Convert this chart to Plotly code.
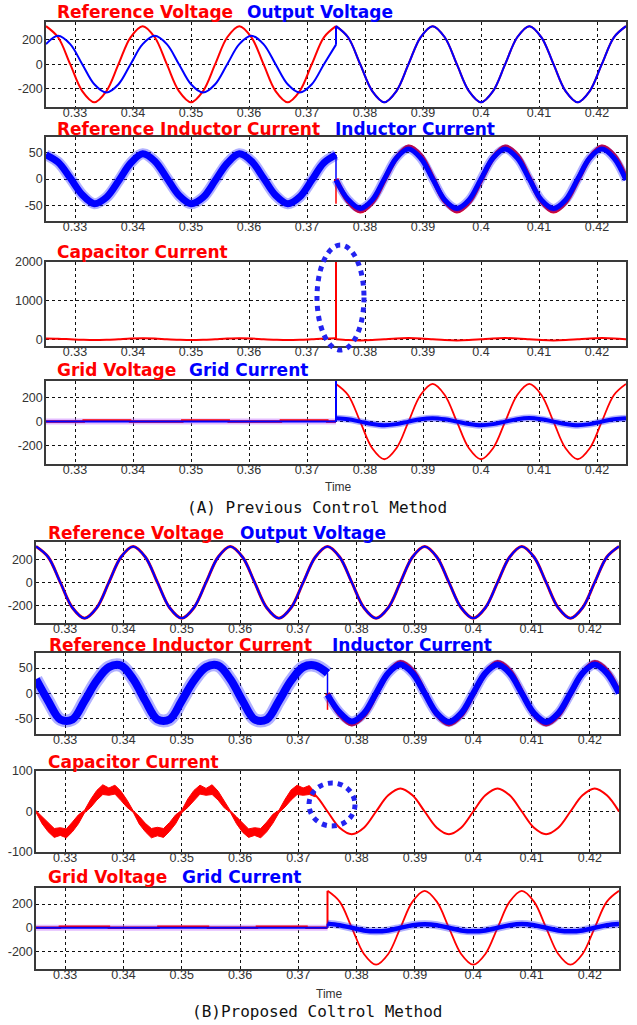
import plotly.graph_objects as go

W, H = 637, 1025

# ---------------- time grids (s) ----------------
T_PRE = [0.32500, 0.32708, 0.32917, 0.33125, 0.33333, 0.33542, 0.33750, 0.33958,
         0.34167, 0.34375, 0.34583, 0.34792, 0.35000, 0.35208, 0.35417, 0.35625,
         0.35833, 0.36042, 0.36250, 0.36458, 0.36667, 0.36875, 0.37083, 0.37292, 0.37500]
T_POST = [0.37500, 0.37708, 0.37917, 0.38125, 0.38333, 0.38542, 0.38750, 0.38958,
          0.39167, 0.39375, 0.39583, 0.39792, 0.40000, 0.40208, 0.40417, 0.40625,
          0.40833, 0.41042, 0.41250, 0.41458, 0.41667, 0.41875, 0.42083, 0.42292, 0.42500]
T_FINE = [0.32500, 0.32604, 0.32708, 0.32813, 0.32917, 0.33021, 0.33125, 0.33229,
          0.33333, 0.33438, 0.33542, 0.33646, 0.33750, 0.33854, 0.33958, 0.34063,
          0.34167, 0.34271, 0.34375, 0.34479, 0.34583, 0.34688, 0.34792, 0.34896,
          0.35000, 0.35104, 0.35208, 0.35313, 0.35417, 0.35521, 0.35625, 0.35729,
          0.35833, 0.35938, 0.36042, 0.36146, 0.36250, 0.36354, 0.36458, 0.36563,
          0.36667, 0.36771, 0.36875, 0.36979, 0.37083, 0.37188, 0.37292]
T_B3_POST = [0.37083, 0.37292, 0.37500, 0.37708, 0.37917, 0.38125, 0.38333, 0.38542,
             0.38750, 0.38958, 0.39167, 0.39375, 0.39583, 0.39792, 0.40000, 0.40208,
             0.40417, 0.40625, 0.40833, 0.41042, 0.41250, 0.41458, 0.41667, 0.41875,
             0.42083, 0.42292, 0.42500]
T_SWITCH = 0.375

X_TICKS = [0.33, 0.34, 0.35, 0.36, 0.37, 0.38, 0.39, 0.40, 0.41, 0.42]
X_TICKTEXT = ["0.33", "0.34", "0.35", "0.36", "0.37", "0.38", "0.39", "0.4", "0.41", "0.42"]

# ---------------- (A) previous method ----------------
A1_VREF_PRE = [311, 220, 0, -220, -311, -220, 0, 220, 311, 220, 0, -220, -311,
               -220, 0, 220, 311, 220, 0, -220, -311, -220, 0, 220, 311]
A1_VREF_POST = [311, 220, 0, -220, -311, -220, 0, 220, 311, 220, 0, -220, -311,
                -220, 0, 220, 311, 220, 0, -220, -311, -220, 0, 220, 311]
A1_VOUT_PRE = [164, 232, 164, 0, -164, -232, -164, 0, 164, 232, 164, 0, -164,
               -232, -164, 0, 164, 232, 164, 0, -164, -232, -164, 0, 160]
A1_VOUT_POST = [311, 220, 0, -220, -311, -220, 0, 220, 311, 220, 0, -220, -311,
                -220, 0, 220, 311, 220, 0, -220, -311, -220, 0, 220, 311]

A2_IREF_PRE = [46, 32, 2, -30, -47, -35, -4, 30, 48, 34, 2, -31, -47,
               -35, -3, 30, 48, 34, 2, -31, -47, -34, -2, 31, 46]
A2_IL_PRE = [46, 32, 2, -30, -47, -35, -4, 30, 48, 34, 2, -31, -47,
             -35, -3, 30, 48, 34, 2, -31, -47, -34, -2, 31, 46]
A2_IREF_SPIKE = [0, -47]
A2_IREF_POST = [0, -42, -61, -44, -2, 40, 61, 45, 2, -42, -61, -44, -2,
                40, 61, 45, 2, -42, -61, -44, -2, 40, 61, 45, 2]
A2_IL_POST = [-2, -39, -56, -40, 0, 40, 57, 40, 0, -40, -56, -40, 0,
              40, 57, 40, 0, -40, -56, -40, 0, 40, 57, 40, -2]

A3_IC_PRE = [20, 14, 0, -14, -22, -15, 0, 16, 24, 17, 0, -14, -22,
             -15, 0, 16, 24, 17, 0, -14, -22, -15, 0, 16, 24]
A3_IC_SPIKE = [24, 2000, 0]
A3_IC_POST = [0, -21, -30, -21, 0, 21, 30, 21, 0, -21, -30, -21, 0,
              21, 30, 21, 0, -21, -30, -21, 0, 21, 30, 21, 0]

A4_VG_PRE_T = [0.3250, 0.3315, 0.3315, 0.3395, 0.3395, 0.3485, 0.3485,
               0.3565, 0.3565, 0.3655, 0.3655, 0.3735, 0.3735, 0.3750]
A4_VG_PRE = [0, 0, 8, 8, 0, 0, 8, 8, 0, 0, 8, 8, 0, 0]
A4_VG_POST = [311, 220, 0, -220, -311, -220, 0, 220, 311, 220, 0, -220, -311,
              -220, 0, 220, 311, 220, 0, -220, -311, -220, 0, 220, 311]
A4_IG_PRE_T = [0.3250, 0.3750]
A4_IG_PRE = [0, 0]
A4_IG_SPIKE = [0, 420, 27]
A4_IG_POST = [27, 19, 0, -20, -30, -21, 0, 20, 28, 19, 0, -20, -30,
              -21, 0, 20, 29, 19, 0, -20, -30, -21, 0, 20, 28]

# ---------------- (B) proposed method ----------------
B1_VREF = [311, 220, 0, -220, -311, -220, 0, 220, 311, 220, 0, -220, -311,
           -220, 0, 220, 311, 220, 0, -220, -311, -220, 0, 220, 311,
           220, 0, -220, -311, -220, 0, 220, 311, 220, 0, -220, -311,
           -220, 0, 220, 311, 220, 0, -220, -311, -220, 0, 220, 311]
B1_VOUT = [311, 220, 0, -220, -311, -220, 0, 220, 311, 220, 0, -220, -311,
           -220, 0, 220, 311, 220, 0, -220, -311, -220, 0, 220, 311,
           220, 0, -220, -311, -220, 0, 220, 311, 220, 0, -220, -311,
           -220, 0, 220, 311, 220, 0, -220, -311, -220, 0, 220, 311]

B2_IREF_PRE = [28, -15, -52, -52, -15, 25, 52, 55, 28, -15, -52, -52, -15,
               25, 52, 55, 28, -15, -52, -52, -15, 25, 52, 55, 40]
B2_IL_PRE = [28, -15, -52, -52, -15, 25, 52, 55, 28, -15, -52, -52, -15,
             25, 52, 55, 28, -15, -52, -52, -15, 25, 52, 55, 40]
B2_IREF_SPIKE = [0, -33]
B2_IREF_POST = [0, -42, -61, -44, -2, 40, 61, 45, 2, -42, -61, -44, -2,
                40, 61, 45, 2, -42, -61, -44, -2, 40, 61, 45, 2]
B2_IL_POST = [-3, -38, -56, -40, 0, 40, 57, 40, 0, -40, -57, -40, 0,
              40, 57, 40, 0, -40, -57, -40, 0, 40, 57, 40, 0]

B3_IC_UPPER = [2, -12, -28, -42, -40, -43, -26, -8, 3, 30, 52, 66, 58, 65, 50, 28,
               2, -12, -29, -42, -39, -42, -27, -8, 3, 31, 52, 65, 57, 66, 50, 27,
               2, -13, -28, -43, -40, -42, -26, -7, 3, 30, 53, 65, 58, 64, 46]
B3_IC_LOWER = [-2, -30, -50, -64, -59, -65, -50, -30, -3, 10, 28, 42, 40, 43, 27, 10,
               -2, -31, -50, -65, -60, -64, -49, -30, -3, 10, 27, 43, 40, 42, 28, 9,
               -2, -30, -51, -64, -59, -65, -50, -29, -3, 11, 28, 42, 40, 42, 36]
B3_IC_POST = [57, 40, 0, -40, -56, -40, 0, 40, 57, 40, 0, -40, -56, -40,
              0, 40, 57, 40, 0, -40, -56, -40, 0, 40, 57, 40, 0]

B4_VG_PRE_T = [0.3250, 0.3291, 0.3291, 0.3375, 0.3375, 0.3460, 0.3460,
               0.3545, 0.3545, 0.3629, 0.3629, 0.3714, 0.3714, 0.3750]
B4_VG_PRE = [0, 0, 8, 8, 0, 0, 8, 8, 0, 0, 8, 8, 0, 0]
B4_VG_POST = [311, 220, 0, -220, -311, -220, 0, 220, 311, 220, 0, -220, -311,
              -220, 0, 220, 311, 220, 0, -220, -311, -220, 0, 220, 311]
B4_IG_PRE_T = [0.3250, 0.3750]
B4_IG_PRE = [0, 0]
B4_IG_POST = [35, 22, 0, -22, -30, -22, 0, 22, 30, 22, 0, -22, -30,
              -22, 0, 22, 32, 22, 0, -22, -30, -22, 0, 22, 32]

# ---------------- styling ----------------
RED = "#ff0000"
BLUE = "#0000ff"
SOFT_BLUE = "rgba(30,30,255,0.35)"
TICK_FONT = dict(family="Liberation Sans, Arial, sans-serif", size=12.5, color="#333333")

A_X = (46, 626)
B_X = (36, 619)
ROWS = [(22, 107), (137, 221), (262, 346), (381, 464),
        (542, 623), (653, 734), (771, 852), (888, 969)]
Y_RANGES = [(-350, 345), (-80, 80), (-175, 2000), (-350, 335),
            (-352, 350), (-81, 80), (-100, 100), (-347, 335)]
Y_TICKS = [[-200, 0, 200], [-50, 0, 50], [0, 1000, 2000], [-200, 0, 200],
           [-200, 0, 200], [-50, 0, 50], [-100, 0, 100], [-200, 0, 200]]

fig = go.Figure()


def line(i, xs, ys, color, width, shape="spline"):
    fig.add_trace(go.Scatter(
        x=xs, y=ys, mode="lines", xaxis="x%d" % i, yaxis="y%d" % i,
        line=dict(color=color, width=width, shape=shape, smoothing=1.0),
        hoverinfo="skip", showlegend=False))


def band(i, xs, upper, lower, color):
    fig.add_trace(go.Scatter(
        x=list(xs) + list(xs)[::-1], y=list(upper) + list(lower)[::-1],
        mode="lines", fill="toself", fillcolor=color,
        line=dict(color=color, width=1), xaxis="x%d" % i, yaxis="y%d" % i,
        hoverinfo="skip", showlegend=False))


S = [T_SWITCH, T_SWITCH]
S3 = [T_SWITCH, T_SWITCH, T_SWITCH]

# A1
line(1, T_PRE, A1_VREF_PRE, RED, 2)
line(1, T_POST, A1_VREF_POST, RED, 2)
line(1, T_PRE, A1_VOUT_PRE, BLUE, 2)
line(1, S, [A1_VOUT_PRE[-1], A1_VOUT_POST[0]], BLUE, 2, "linear")
line(1, T_POST, A1_VOUT_POST, BLUE, 2)

# A2
line(2, T_PRE, A2_IREF_PRE, RED, 2)
line(2, T_PRE, A2_IL_PRE, SOFT_BLUE, 11)
line(2, T_PRE, A2_IL_PRE, BLUE, 7)
line(2, T_POST, A2_IREF_POST, RED, 5)
line(2, S, A2_IREF_SPIKE, RED, 1.5, "linear")
line(2, S, [A2_IL_PRE[-1], A2_IL_POST[0]], BLUE, 1.5, "linear")
line(2, T_POST, A2_IL_POST, SOFT_BLUE, 9)
line(2, T_POST, A2_IL_POST, BLUE, 5)

# A3
line(3, T_PRE, A3_IC_PRE, RED, 2)
line(3, S3, A3_IC_SPIKE, RED, 2, "linear")
line(3, T_POST, A3_IC_POST, RED, 2)

# A4
line(4, A4_VG_PRE_T, A4_VG_PRE, "rgba(200,120,255,0.5)", 6, "linear")
line(4, A4_VG_PRE_T, A4_VG_PRE, RED, 2.5, "linear")
line(4, A4_IG_PRE_T, A4_IG_PRE, BLUE, 2, "linear")
line(4, T_POST, A4_VG_POST, RED, 1.8)
line(4, S3, A4_IG_SPIKE, BLUE, 2, "linear")
line(4, T_POST, A4_IG_POST, SOFT_BLUE, 7)
line(4, T_POST, A4_IG_POST, BLUE, 4)

# B1
line(5, T_PRE + T_POST[1:], B1_VREF, RED, 3)
line(5, T_PRE + T_POST[1:], B1_VOUT, BLUE, 2.2)

# B2
line(6, T_PRE, B2_IREF_PRE, RED, 2)
line(6, T_PRE, B2_IL_PRE, SOFT_BLUE, 13)
line(6, T_PRE, B2_IL_PRE, BLUE, 8)
line(6, T_POST, B2_IREF_POST, RED, 5)
line(6, S, B2_IREF_SPIKE, RED, 1.5, "linear")
line(6, S, [B2_IL_PRE[-1], B2_IL_POST[0]], BLUE, 1.5, "linear")
line(6, T_POST, B2_IL_POST, SOFT_BLUE, 10)
line(6, T_POST, B2_IL_POST, BLUE, 6)

# B3
band(7, T_FINE, B3_IC_UPPER, B3_IC_LOWER, RED)
line(7, T_B3_POST, B3_IC_POST, RED, 2)

# B4
line(8, B4_VG_PRE_T, B4_VG_PRE, "rgba(200,120,255,0.5)", 6, "linear")
line(8, B4_VG_PRE_T, B4_VG_PRE, RED, 2.5, "linear")
line(8, B4_IG_PRE_T, B4_IG_PRE, BLUE, 2, "linear")
line(8, S, [B4_VG_PRE[-1], B4_VG_POST[0]], RED, 2, "linear")
line(8, T_POST, B4_VG_POST, RED, 1.8)
line(8, S, [B4_IG_PRE[-1], B4_IG_POST[0]], BLUE, 2, "linear")
line(8, T_POST, B4_IG_POST, SOFT_BLUE, 8)
line(8, T_POST, B4_IG_POST, BLUE, 4.5)

# ---------------- axes ----------------
layout = dict(width=W, height=H, margin=dict(l=0, r=0, t=0, b=0, autoexpand=False),
              autosize=False, paper_bgcolor="white", plot_bgcolor="white",
              showlegend=False)
for i in range(1, 9):
    xd = A_X if i <= 4 else B_X
    top, bot = ROWS[i - 1]
    common = dict(showgrid=True, griddash="dot", gridcolor="#111111", gridwidth=1,
                  showline=True, mirror=True, linecolor="#3a3a3a", linewidth=1.5,
                  zeroline=False, ticks="", tickfont=TICK_FONT, fixedrange=True,
                  automargin=False)
    layout["xaxis%d" % i] = dict(common, domain=[xd[0] / W, xd[1] / W],
                                 range=[0.325, 0.425], tickvals=X_TICKS,
                                 ticktext=X_TICKTEXT, anchor="y%d" % i,
                                 ticklabelstandoff=-7)
    yt = Y_TICKS[i - 1]
    layout["yaxis%d" % i] = dict(common, domain=[1 - bot / H, 1 - top / H],
                                 range=list(Y_RANGES[i - 1]), tickvals=yt,
                                 ticktext=[str(v) for v in yt], anchor="x%d" % i,
                                 ticklabelstandoff=-1)
fig.update_layout(**layout)

# ---------------- titles / captions ----------------
TITLES = [
    (12, [("Reference Voltage", 55, RED), ("Output Voltage", 245, BLUE)]),
    (129, [("Reference Inductor Current", 55, RED), ("Inductor Current", 333, BLUE)]),
    (252, [("Capacitor Current", 55, RED)]),
    (370, [("Grid Voltage", 55, RED), ("Grid Current", 187, BLUE)]),
    (533, [("Reference Voltage", 46, RED), ("Output Voltage", 238, BLUE)]),
    (645, [("Reference Inductor Current", 47, RED), ("Inductor Current", 330, BLUE)]),
    (762, [("Capacitor Current", 46, RED)]),
    (877, [("Grid Voltage", 46, RED), ("Grid Current", 180, BLUE)]),
]
ann = []
for yc, parts in TITLES:
    for txt, x0, col in parts:
        ann.append(dict(text="<b>%s</b>" % txt, x=x0 / W, y=1 - yc / H,
                        xref="paper", yref="paper", xanchor="left", yanchor="middle",
                        showarrow=False,
                        font=dict(family="DejaVu Sans, sans-serif", size=17, color=col)))
ann.append(dict(text="Time", x=338 / W, y=1 - 487 / H, xref="paper", yref="paper",
                showarrow=False, xanchor="center", yanchor="middle",
                font=dict(family="Liberation Sans, Arial", size=12, color="#333333")))
ann.append(dict(text="Time", x=330 / W, y=1 - 994 / H, xref="paper", yref="paper",
                showarrow=False, xanchor="center", yanchor="middle",
                font=dict(family="Liberation Sans, Arial", size=12, color="#333333")))
ann.append(dict(text="(A) Previous Control Method", x=317 / W, y=1 - 507 / H,
                xref="paper", yref="paper", showarrow=False, xanchor="center",
                yanchor="middle",
                font=dict(family="DejaVu Sans Mono, monospace", size=16, color="#111111")))
ann.append(dict(text="(B)Proposed Coltrol Method", x=317 / W, y=1 - 1011 / H,
                xref="paper", yref="paper", showarrow=False, xanchor="center",
                yanchor="middle",
                font=dict(family="DejaVu Sans Mono, monospace", size=16, color="#111111")))
fig.update_layout(annotations=ann)

# dotted highlight ellipses
fig.update_layout(shapes=[
    dict(type="circle", xref="paper", yref="paper",
         x0=317 / W, x1=364 / W, y0=1 - 350 / H, y1=1 - 245 / H,
         line=dict(color="#2323f0", width=5, dash="dot"), layer="above"),
    dict(type="circle", xref="paper", yref="paper",
         x0=309 / W, x1=355 / W, y0=1 - 826 / H, y1=1 - 783 / H,
         line=dict(color="#2323f0", width=5, dash="dot"), layer="above"),
])

PAGE_FIX = ("document.documentElement.style.margin='0';"
            "document.body.style.margin='0';document.body.style.padding='0';"
            "document.documentElement.style.overflow='hidden';"
            "document.body.style.overflow='hidden';")

fig.write_html("out.html", config={"displayModeBar": False}, post_script=PAGE_FIX)
